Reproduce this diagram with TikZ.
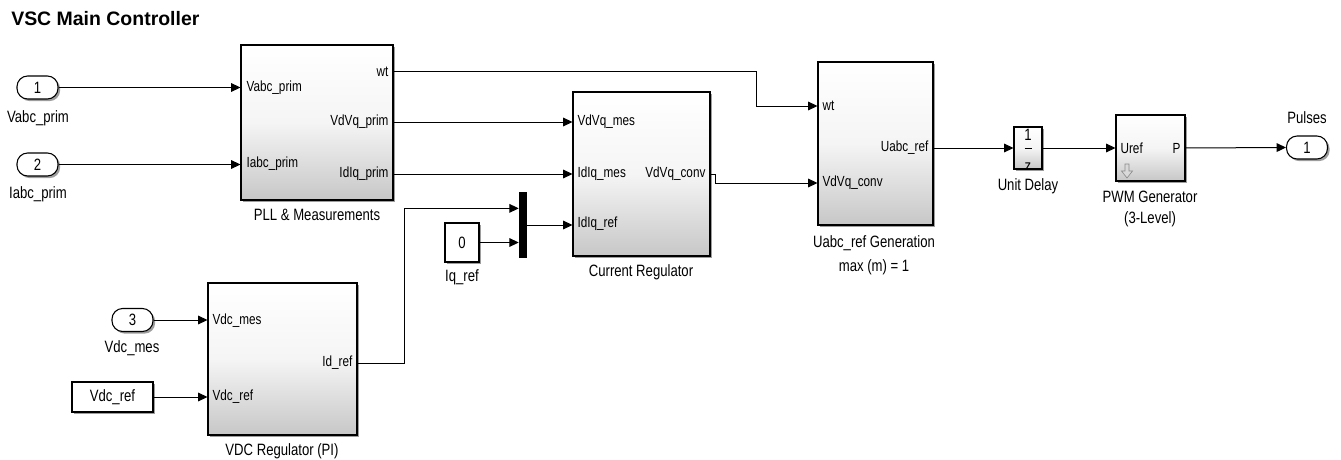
\documentclass[tikz,border=0pt]{standalone}
\usepackage{fontspec}
\setmainfont{Liberation Sans}[FakeStretch=0.8]
\newfontfamily\ttlfam{Liberation Sans}
\usetikzlibrary{arrows.meta,shadows,calc}
\newcommand\lblfont{\fontsize{12.3}{14}\selectfont}
\newcommand\portfont{\fontsize{11}{13}\selectfont}
\newcommand\ttlfont{\ttlfam\fontsize{14.6}{18}\selectfont\bfseries}
\tikzset{
  shad/.style={drop shadow={shadow xshift=1.6pt,shadow yshift=-1.6pt,fill=black!55,opacity=0.7}},
  blk/.style={draw=black, line width=0.8pt, top color=white, bottom color=black!22, middle color=white!96!black, shad, inner sep=0pt},
  plainbox/.style={draw=black, line width=0.8pt, fill=white, shad, inner sep=0pt},
  portin/.style={draw=black, line width=0.8pt, fill=white, rounded corners=8pt, shad, minimum width=30.75pt, minimum height=17.25pt, inner sep=0pt},
  plbl/.style={font=\portfont, inner sep=1pt},
  arr/.style={-{Triangle[length=7pt,width=6.5pt]}, line width=0.75pt},
  wire/.style={line width=0.75pt}
}
\begin{document}
\begin{tikzpicture}[x=0.75pt,y=-0.75pt,font=\lblfont]
\useasboundingbox (0,0) rectangle (1341,460);
% title
\node[anchor=west, font=\ttlfont, inner sep=0pt] (title) at (11,19) {VSC Main Controller};

% blocks
\node[blk, minimum width=114pt, minimum height=116.25pt] (pll) at (317,122.5) {};
\node[blk, minimum width=102.75pt, minimum height=123pt] (cr) at (641.5,174) {};
\node[blk, minimum width=86.25pt, minimum height=122.25pt] (ua) at (875.5,143.5) {};
\node[blk, minimum width=111.75pt, minimum height=114pt] (vdc) at (282.5,359) {};
\node[blk, minimum width=21pt, minimum height=31.5pt] (ud) at (1028,148) {};
\node[blk, minimum width=51.75pt, minimum height=49.5pt] (pwm) at (1150.5,148) {};
\node[fill=black, minimum width=6pt, minimum height=49.5pt, inner sep=0pt] (mux) at (523,225) {};
\node[plainbox, minimum width=25.5pt, minimum height=29.25pt] (c0) at (462,242.5) {0};
\node[plainbox, minimum width=60.75pt, minimum height=22.5pt] (cvdc) at (112.5,397) {Vdc\_ref};
\node[portin] (in1) at (37.5,87.5) {1};
\node[portin] (in2) at (37.5,164.5) {2};
\node[portin] (in3) at (132.5,320) {3};
\node[portin] (out1) at (1307,147.5) {1};

% labels under / above blocks
\node (l-in1) at (38,118) {Vabc\_prim};
\node (l-in2) at (38,194) {Iabc\_prim};
\node (l-pll) at (317,215) {PLL \& Measurements};
\node (l-cr) at (641,272) {Current Regulator};
\node (l-c0) at (462,277) {Iq\_ref};
\node (l-ua1) at (874,243) {Uabc\_ref Generation};
\node (l-ua2) at (874,267) {max (m) = 1};
\node (l-ud) at (1028,186) {Unit Delay};
\node (l-pwm1) at (1150,197) {PWM Generator};
\node (l-pwm2) at (1150,219) {(3-Level)};
\node (l-out) at (1307,118) {Pulses};
\node (l-in3) at (132,348) {Vdc\_mes};
\node (l-vdc) at (282,451) {VDC Regulator (PI)};

% port labels
\node[plbl, anchor=west] (pll-va) at (245,88) {Vabc\_prim};
\node[plbl, anchor=west] (pll-ia) at (245,164) {Iabc\_prim};
\node[plbl, anchor=east] (pll-wt) at (390,72) {wt};
\node[plbl, anchor=east] (pll-vq) at (390,122) {VdVq\_prim};
\node[plbl, anchor=east] (pll-iq) at (390,174) {IdIq\_prim};

\node[plbl, anchor=west] (cr-vm) at (576,122) {VdVq\_mes};
\node[plbl, anchor=west] (cr-im) at (576,174) {IdIq\_mes};
\node[plbl, anchor=west] (cr-ir) at (576,224) {IdIq\_ref};
\node[plbl, anchor=east] (cr-vc) at (707,174) {VdVq\_conv};

\node[plbl, anchor=west] (ua-wt) at (821,106) {wt};
\node[plbl, anchor=west] (ua-vc) at (821,183) {VdVq\_conv};
\node[plbl, anchor=east] (ua-ur) at (930,148) {Uabc\_ref};

\node[plbl, anchor=west] (vdc-vm) at (211,321) {Vdc\_mes};
\node[plbl, anchor=west] (vdc-vr) at (211,397) {Vdc\_ref};
\node[plbl, anchor=east] (vdc-id) at (354,363) {Id\_ref};

\node[plbl, anchor=west] (pwm-u) at (1119,148) {Uref};
\node[plbl, anchor=east] (pwm-p) at (1182,148) {P};
\draw[draw=black!45, fill=black!15, line width=0.5pt]
  (1125,164) -- (1129,164) -- (1129,171) -- (1132.5,171) -- (1127,178) -- (1121.5,171) -- (1125,171) -- cycle;

% unit delay contents
\node[font=\lblfont, inner sep=0pt] (ud-n) at (1028,134.5) {1};
\draw[line width=0.8pt] (1024.5,148.5) -- (1031.5,148.5);
\begin{scope}
  \clip (ud.south west) rectangle (ud.north east);
  \node[font=\lblfont, inner sep=0pt] (ud-d) at (1028,167) {z};
\end{scope}

% helper coordinates
\coordinate (wtx) at (756,0);
\coordinate (cvx) at (715,0);
\coordinate (idx) at (404,0);
\coordinate (muxa) at ($(mux.north west)!0.25!(mux.south west)$);

% connectors
\draw[arr] (in1.east) -- (in1.east -| pll.west);
\draw[arr] (in2.east) -- (in2.east -| pll.west);
\draw[arr] (in3.east) -- (in3.east -| vdc.west);
\draw[arr] (cvdc.east) -- (cvdc.east -| vdc.west);
\draw[arr] (pll-wt -| pll.east) -| (wtx |- ua-wt) -- (ua-wt -| ua.west);
\draw[arr] (pll-vq -| pll.east) -- (pll-vq -| cr.west);
\draw[arr] (pll-iq -| pll.east) -- (pll-iq -| cr.west);
\draw[arr] (cr-vc -| cr.east) -| (cvx |- ua-vc) -- (ua-vc -| ua.west);
\draw[arr] (vdc-id -| vdc.east) -| (idx |- muxa) -- (muxa);
\draw[arr] (c0.east) -- (c0.east -| mux.west);
\draw[arr] (mux.east) -- (mux.east -| cr.west);
\draw[arr] (ua-ur -| ua.east) -- (ud.west);
\draw[arr] (ud.east) -- (pwm.west);
\draw[arr] (pwm.east) -- (out1.west);
\end{tikzpicture}
\end{document}
